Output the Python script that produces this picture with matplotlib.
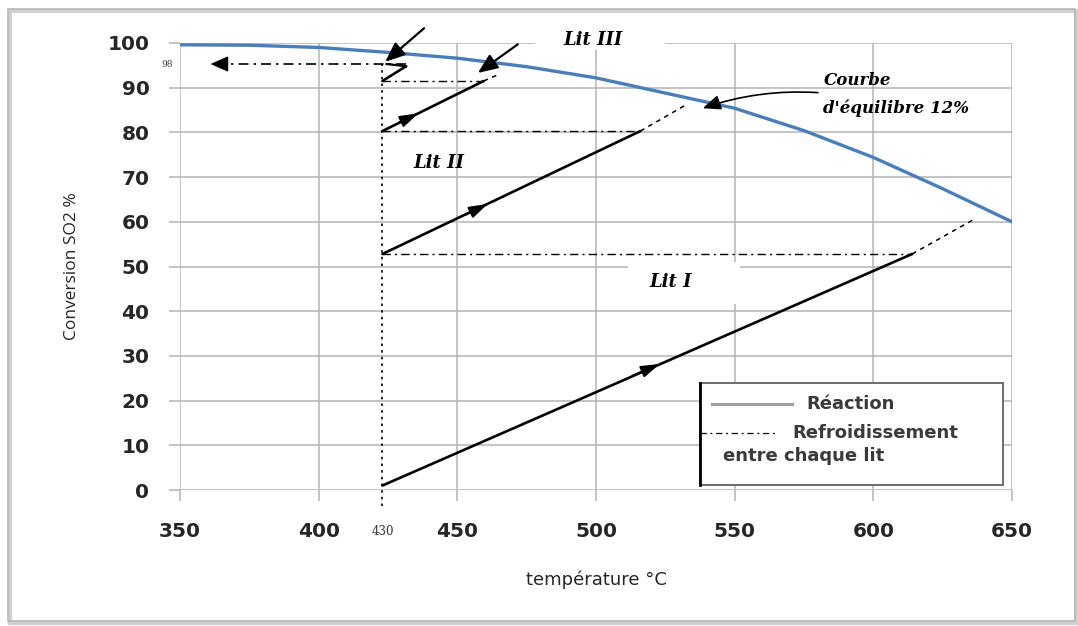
import matplotlib
matplotlib.use("Agg")
import matplotlib.pyplot as plt
from matplotlib.patches import Rectangle
from matplotlib.lines import Line2D

# ---------------- data ----------------
eq_T = [350, 375, 400, 425, 450, 475, 500, 525, 550, 575, 600, 625, 650]
eq_X = [99.6, 99.5, 99.0, 97.9, 96.6, 94.7, 92.2, 88.8, 85.4, 80.4, 74.4, 67.4, 60.0]

# reaction beds (start, end), dashed extension toward equilibrium
bed1_T = [423, 614]; bed1_X = [1.0, 52.8]
bed1_ext_T = [614, 637]; bed1_ext_X = [52.8, 60.8]
bed2_T = [423, 516]; bed2_X = [52.8, 80.3]
bed2_ext_T = [516, 532]; bed2_ext_X = [80.3, 86.0]
bed3_T = [423, 459.5]; bed3_X = [80.3, 91.5]
bed3_ext_T = [459.5, 465]; bed3_ext_X = [91.5, 93.0]
bed4_T = [423, 431.5]; bed4_X = [91.5, 94.8]

# cooling lines between beds
cool_levels = [52.8, 80.3, 91.5]
cool_T_end = [614, 516, 459.5]
final_X = 95.3
final_T = [431.5, 361]

# arrows along each bed (tail, head)
mid_arrows = [((513, 25.5), (523, 28.2)),
              ((453, 61.6), (461, 64.0)),
              ((429, 82.2), (436, 84.3))]

inlet_T = 423
xticks = [350, 400, 450, 500, 550, 600, 650]
yticks = [0, 10, 20, 30, 40, 50, 60, 70, 80, 90, 100]

# ---------------- figure ----------------
fig = plt.figure(figsize=(10.78, 6.26), dpi=100)
ax = fig.add_axes([180/1078, 1-490/626, 832/1078, 447/626])
ax.set_xlim(350, 650)
ax.set_ylim(0, 100)

grid_c = "#b4b4b4"
for s in ax.spines.values():
    s.set_visible(False)
ax.set_xticks(xticks)
ax.set_yticks(yticks)
ax.grid(True, color=grid_c, lw=1.1)
ax.set_axisbelow(True)
ax.tick_params(axis="both", length=8, color=grid_c, width=1.1)
ax.tick_params(axis="x", pad=15)
ax.tick_params(axis="y", pad=14)
for lab in ax.get_xticklabels() + ax.get_yticklabels():
    lab.set_fontfamily("DejaVu Sans")
    lab.set_fontweight("bold")
    lab.set_fontsize(14.5)
    lab.set_color("#262626")

ax.set_ylabel("Conversion SO2 %", fontsize=12.5, family="Open Sans", labelpad=20,
              color="#262626")
ax.set_xlabel("température °C", fontsize=13, family="DejaVu Sans", labelpad=21,
              color="#262626")

# white gaps in the grid behind the bed labels
ax.add_patch(Rectangle((478, 98.5), 47, 3.5, facecolor="white", edgecolor="none",
                       zorder=0.8, clip_on=False))
ax.add_patch(Rectangle((511.5, 41.5), 40.5, 9.5, facecolor="white", edgecolor="none",
                       zorder=0.8))

# equilibrium curve
ax.plot(eq_T, eq_X, color="#4a7ebb", lw=2.4, zorder=3)

# inlet temperature dotted line
ax.plot([inlet_T, inlet_T], [-3.5, final_X], color="black", lw=1.2,
        ls=(0, (1.5, 2.5)), clip_on=False, zorder=2)

# beds
for T, X in [(bed1_T, bed1_X), (bed2_T, bed2_X), (bed3_T, bed3_X), (bed4_T, bed4_X)]:
    ax.plot(T, X, color="black", lw=1.9, zorder=4, solid_capstyle="round")
for T, X in [(bed1_ext_T, bed1_ext_X), (bed2_ext_T, bed2_ext_X), (bed3_ext_T, bed3_ext_X)]:
    ax.plot(T, X, color="black", lw=1.1, ls=(0, (3, 3)), zorder=4)

# cooling lines
for lvl, tend in zip(cool_levels, cool_T_end):
    ax.plot([inlet_T, tend], [lvl, lvl], color="black", lw=1.0,
            ls=(0, (6, 3, 1.5, 3)), zorder=4)
ax.plot([bed4_T[1], final_T[1] + 3], [final_X, final_X], color="black", lw=1.2,
        ls=(0, (6, 3, 1.5, 3)), zorder=4)
ax.annotate("", xy=(final_T[1], final_X), xytext=(final_T[1] + 3.5, final_X),
            arrowprops=dict(arrowstyle="-|>,head_length=0.5,head_width=0.22",
                            color="black", lw=1.0, mutation_scale=22,
                            shrinkA=0, shrinkB=0), zorder=5)
# small triangle return
ax.plot([bed4_T[1], 424.5], [bed4_X[1], final_X], color="black", lw=1.6, zorder=4)

# mid-bed arrows
for (t0, h0) in mid_arrows:
    ax.annotate("", xy=h0, xytext=t0,
                arrowprops=dict(arrowstyle="-|>,head_length=0.7,head_width=0.22",
                                color="black", lw=1.5, mutation_scale=16,
                                shrinkA=0, shrinkB=0), zorder=5)

# pointer arrows from above
for tip, tail in [((424, 95.8), (438, 103.3)), ((457.4, 93.3), (471.8, 99.7))]:
    ax.annotate("", xy=tip, xytext=tail,
                arrowprops=dict(arrowstyle="-|>,head_length=0.6,head_width=0.25",
                                color="black", lw=1.6, mutation_scale=20,
                                shrinkA=0, shrinkB=0),
                annotation_clip=False, zorder=6)

# curved arrow to equilibrium curve
ax.annotate("", xy=(538.5, 85.4), xytext=(580, 88.9),
            arrowprops=dict(arrowstyle="-|>,head_length=0.6,head_width=0.25",
                            color="black", lw=1.2, mutation_scale=18,
                            shrinkA=0, shrinkB=0,
                            connectionstyle="arc3,rad=0.1"),
            zorder=6)

# labels
lab_kw = dict(family="DejaVu Serif", style="italic", weight="bold", color="black")
ax.text(499, 100.7, "Lit III", ha="center", va="center", zorder=7, fontsize=13,
        clip_on=False, **lab_kw)
ax.text(443.5, 73.2, "Lit II", ha="center", va="center", zorder=7, fontsize=13,
        **lab_kw)
ax.text(527, 46.5, "Lit I", ha="center", va="center", zorder=7, fontsize=13,
        **lab_kw)
ax.text(582, 91.7, "Courbe", ha="left", va="center", zorder=7, fontsize=12,
        **lab_kw)
ax.text(582, 85.5, "d'équilibre 12%", ha="left", va="center", zorder=7,
        fontsize=12, **lab_kw)

ax.text(inlet_T, -9.2, "430", ha="center", va="center", family="DejaVu Serif",
        fontsize=8.5, color="#333333", clip_on=False)
ax.text(345.5, 95.3, "98", ha="center", va="center", family="DejaVu Serif",
        fontsize=6.5, color="#444444", clip_on=False)

# legend (drawn as a box in axes fraction)
lx0, ly0, lx1, ly1 = (700-180)/832, (490-485)/447, (1003-180)/832, (490-383)/447
ax.add_patch(Rectangle((lx0, ly0), lx1-lx0, ly1-ly0, transform=ax.transAxes,
                       facecolor="white", edgecolor="#555555", lw=1.2, zorder=8))
ax.add_line(Line2D([lx0, lx0], [ly0, ly1], transform=ax.transAxes,
                   color="black", lw=2.0, zorder=9))
ax.add_line(Line2D([(712-180)/832, (792-180)/832], [0.192, 0.192],
                   transform=ax.transAxes, color="#a0a0a0", lw=2.2, zorder=9))
ax.add_line(Line2D([(700-180)/832, (778-180)/832], [0.128, 0.128],
                   transform=ax.transAxes, color="black", lw=0.9,
                   ls=(0, (5, 3, 1.5, 3)), zorder=9))
leg_kw = dict(family="DejaVu Sans", weight="bold", fontsize=13, color="#3a3a3a",
              transform=ax.transAxes, va="center", ha="left", zorder=9)
ax.text((806-180)/832, 0.192, "Réaction", **leg_kw)
ax.text((792-180)/832, 0.128, "Refroidissement", **leg_kw)
ax.text((723-180)/832, 0.075, "entre chaque lit", **leg_kw)

# outer frame with shadow
fig.patches.append(Rectangle((10/1078, 1-623/626), 1066/1078, 612/626,
                             transform=fig.transFigure, facecolor="none",
                             edgecolor="#d0d0d0", lw=3))
fig.patches.append(Rectangle((8/1078, 1-621/626), 1067/1078, 612/626,
                             transform=fig.transFigure, facecolor="none",
                             edgecolor="#b8b8b8", lw=1.2))

fig.savefig("out.png", dpi=100)
